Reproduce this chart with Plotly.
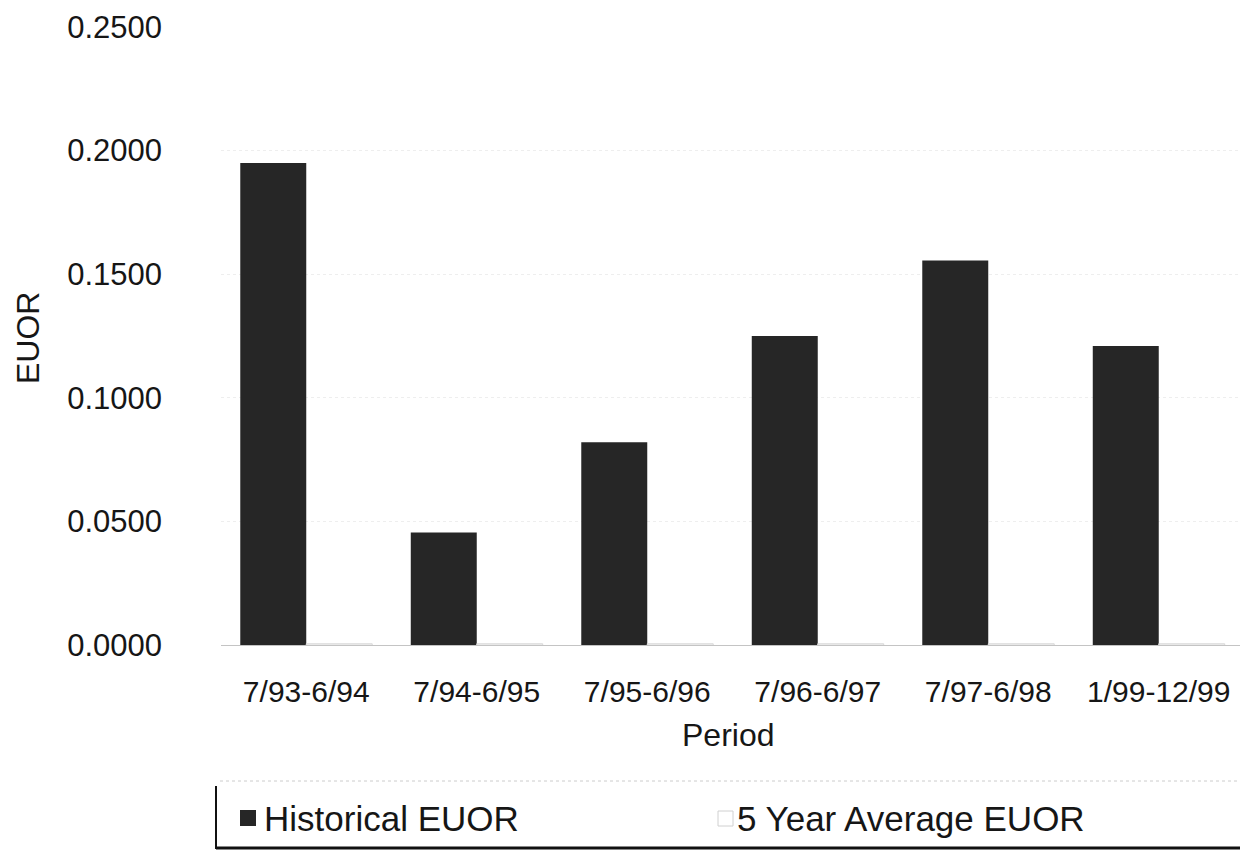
import plotly.graph_objects as go

periods = ["7/93-6/94", "7/94-6/95", "7/95-6/96", "7/96-6/97", "7/97-6/98", "1/99-12/99"]
historical = [0.1950, 0.0455, 0.0820, 0.1250, 0.1555, 0.1210]
five_year_avg = [0.0005, 0.0005, 0.0005, 0.0005, 0.0005, 0.0005]
y_ticks = [0.0, 0.05, 0.10, 0.15, 0.20, 0.25]
legend_names = ["Historical EUOR", "5 Year Average EUOR"]

# page has an 8px body margin; work in page pixels and convert
OFF = 8
W, H = 1240, 843
plot_left, plot_right, plot_top, plot_bottom = 221, 1244, 27, 645  # page pixels
L = plot_left - OFF
R = W - (plot_right - OFF)
T = plot_top - OFF
B = H - (plot_bottom - OFF)
pw = W - L - R
ph = H - T - B

def px_x(x):
    return (x - plot_left) / pw

def px_y(y):
    return (plot_bottom - y) / ph

font = "Liberation Sans, Arial, sans-serif"
ink = "#161616"

fig = go.Figure()
fig.add_trace(go.Bar(x=periods, y=historical, name=legend_names[0],
                     marker=dict(color="#262626", line=dict(width=0))))
fig.add_trace(go.Bar(x=periods, y=five_year_avg, name=legend_names[1],
                     marker=dict(color="#ffffff", line=dict(color="#d8d8d8", width=1))))

fig.update_layout(
    width=W, height=H,
    margin=dict(l=L, r=R, t=T, b=B, autoexpand=False),
    paper_bgcolor="white", plot_bgcolor="white",
    barmode="group", bargap=0.226, bargroupgap=0.0,
    font=dict(family=font, size=33, color=ink),
    showlegend=False,
    xaxis=dict(showline=False, ticks="", automargin=False,
               tickfont=dict(size=30, color=ink),
               ticklabelstandoff=26, ticklabeloverflow="allow"),
    yaxis=dict(range=[0, 0.25], tickvals=y_ticks, tickformat=".4f", automargin=False,
               showgrid=True, gridcolor="#eeeeee", griddash="dot", gridwidth=1,
               zeroline=True, zerolinecolor="#c4c4c4", zerolinewidth=1,
               showline=False, ticks="", tickfont=dict(size=31, color=ink),
               ticklabelstandoff=58, ticklabeloverflow="allow"),
    annotations=[
        dict(text="EUOR", xref="paper", yref="paper", x=px_x(28), y=px_y(338),
             showarrow=False, textangle=-90, font=dict(size=32, color=ink),
             xanchor="center", yanchor="middle"),
        dict(text="Period", xref="paper", yref="paper", x=px_x(728), y=px_y(735),
             showarrow=False, font=dict(size=32, color=ink),
             xanchor="center", yanchor="middle"),
        dict(text=legend_names[0], xref="paper", yref="paper", x=px_x(262), y=px_y(818),
             showarrow=False, font=dict(size=35, color=ink), xanchor="left", yanchor="middle"),
        dict(text=legend_names[1], xref="paper", yref="paper", x=px_x(735), y=px_y(818),
             showarrow=False, font=dict(size=35, color=ink), xanchor="left", yanchor="middle"),
    ],
    shapes=[
        dict(type="rect", xref="paper", yref="paper", x0=px_x(240), x1=px_x(256),
             y0=px_y(826), y1=px_y(810), fillcolor="#262626", line=dict(width=0)),
        dict(type="rect", xref="paper", yref="paper", x0=px_x(718), x1=px_x(733),
             y0=px_y(826), y1=px_y(811), fillcolor="#ffffff", line=dict(color="#d0d0d0", width=1)),
        dict(type="line", xref="paper", yref="paper", x0=px_x(216), x1=px_x(216),
             y0=px_y(786), y1=px_y(849), line=dict(color="#111111", width=2)),
        dict(type="line", xref="paper", yref="paper", x0=px_x(216), x1=px_x(1248),
             y0=px_y(848), y1=px_y(848), line=dict(color="#111111", width=3)),
        dict(type="line", xref="paper", yref="paper", x0=px_x(220), x1=px_x(1240),
             y0=px_y(781), y1=px_y(781), line=dict(color="#cccccc", width=1, dash="dot")),
    ],
)

fig.write_html("out.html")
